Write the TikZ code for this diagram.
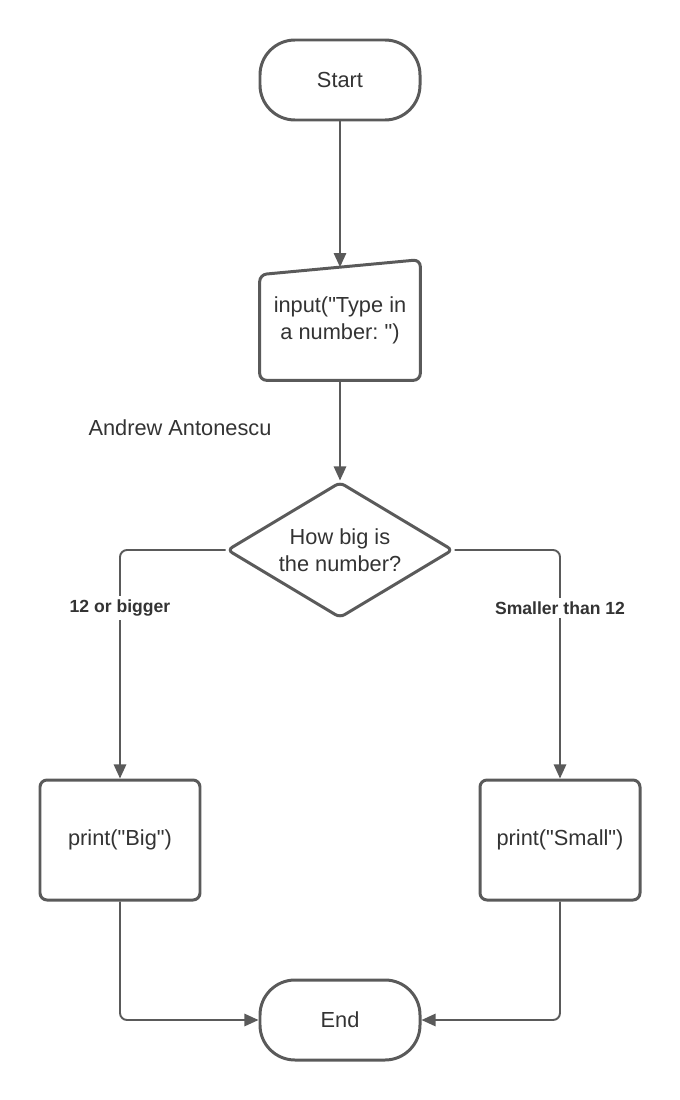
\documentclass[tikz,border=0pt]{standalone}
\usepackage{fontspec}
\setmainfont{Liberation Sans}[Ligatures=TeXOff]
\usetikzlibrary{arrows.meta,positioning,shapes.geometric}
\definecolor{linegray}{HTML}{5A5A5A}
\definecolor{textgray}{HTML}{333333}
\frenchspacing

\begin{document}
\begin{tikzpicture}[
  font=\fontsize{12.4}{15.5}\selectfont, text=textgray,
  terminal/.style={draw=linegray, line width=1.7pt, rounded corners=0.7cm, align=center, minimum width=3.2cm, minimum height=1.6cm},
  procbox/.style={draw=linegray, line width=1.7pt, rounded corners=4pt, align=center, minimum width=3.2cm, minimum height=2.4cm},
  inbox/.style={align=center, minimum width=3.2cm, minimum height=2.4cm},
  decision/.style={diamond, draw=linegray, line width=1.7pt, rounded corners=3pt, align=center, aspect=1.66, inner sep=0pt, minimum width=4.52cm, minimum height=2.72cm},
  lbl/.style={font=\fontsize{10}{12}\selectfont\bfseries, fill=white, inner sep=2pt},
  arrow/.style={-{Triangle[length=8pt,width=7pt]}, line width=1.1pt, draw=linegray, rounded corners=4pt}
]
\useasboundingbox (0,0) rectangle (13.6,-22);

\node[terminal] (start) at (6.8,-1.6) {Start};

\node[inbox] (input) at (6.8,-6.4) {input("Type in\\a number:\ ")};
\draw[linegray, line width=1.7pt, rounded corners=4pt]
  (input.south west) -- (input.south east) -- (input.north east)
  -- ([yshift=-0.3cm]input.north west) -- cycle;
\coordinate (intop) at ([yshift=-0.15cm]input.north);

\node (author) at (3.6,-8.56) {Andrew Antonescu};

\node[decision] (ask) at (6.8,-11.0) {How big is\\the number?};

\node[procbox] (big) at (2.4,-16.8) {print("Big")};
\node[procbox] (small) at (11.2,-16.8) {print("Small")};

\node[terminal] (end) at (6.8,-20.4) {End};

\draw[arrow] (start.south) -- (intop);
\draw[arrow] (input.south) -- (ask.north);
\draw[arrow] (ask.west) -| (big.north);
\draw[arrow] (ask.east) -| (small.north);
\draw[arrow] (big.south) |- (end.west);
\draw[arrow] (small.south) |- (end.east);

\node[lbl] (ltbig) at (2.4,-12.16) {12 or bigger};
\node[lbl] (ltsmall) at (11.2,-12.16) {Smaller than 12};

\end{tikzpicture}
\end{document}
